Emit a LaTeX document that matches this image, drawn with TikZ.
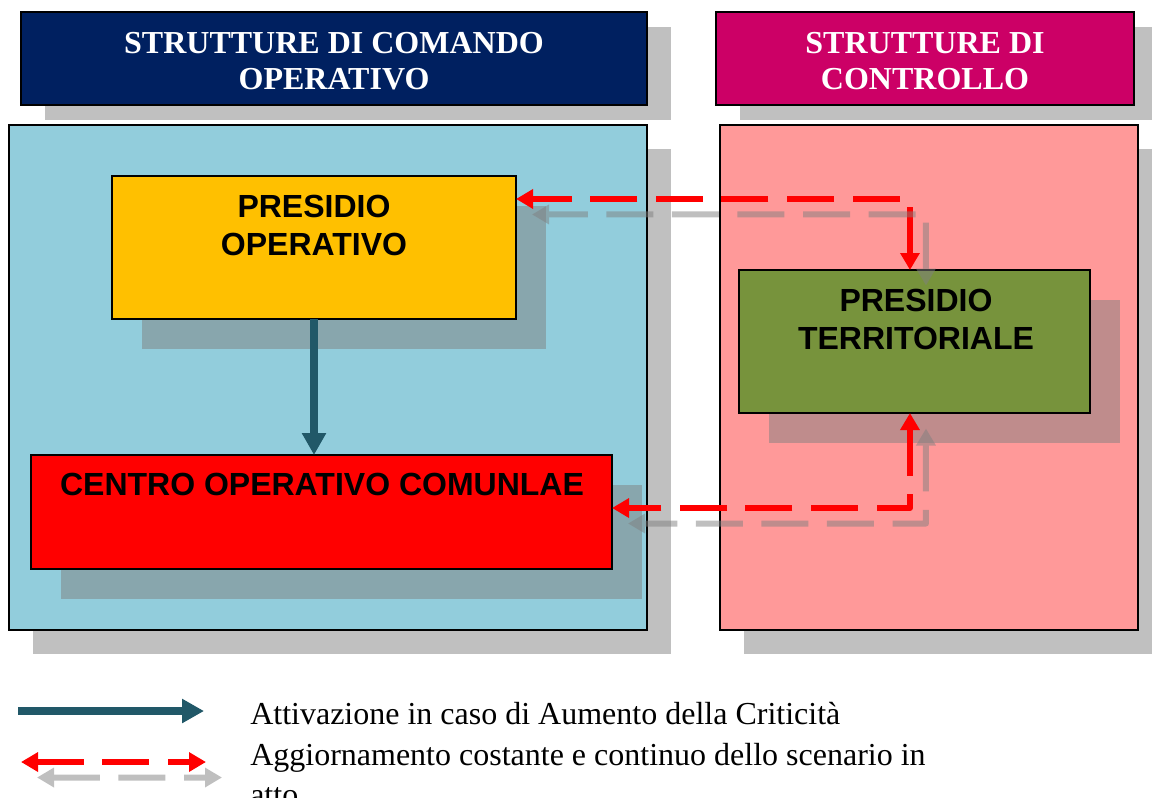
\documentclass[tikz,border=0pt]{standalone}
\usepackage{fontspec}
\setmainfont{Liberation Serif}
\newfontfamily\arialf{Liberation Sans}
\usetikzlibrary{arrows.meta,shadows,fit,calc}
\definecolor{navyH}{HTML}{002060}
\definecolor{magH}{HTML}{CC0066}
\definecolor{cyanP}{HTML}{92CDDC}
\definecolor{pinkP}{HTML}{FF9999}
\definecolor{yellowB}{HTML}{FFC000}
\definecolor{greenB}{HTML}{77933C}
\definecolor{tealA}{HTML}{215868}
\definecolor{shadowC}{HTML}{C0C0C0}
\begin{document}
\begin{tikzpicture}[x=0.75pt,y=-0.75pt,
  hdr/.style={draw=black, line width=1.5pt, inner sep=0, outer sep=0,
    general shadow={shadow xshift=18pt, shadow yshift=-11.6pt, fill=shadowC}},
  panel/.style={draw=black, line width=1.1pt, inner sep=0, outer sep=0,
    general shadow={shadow xshift=18pt, shadow yshift=-18pt, fill=shadowC}},
  box/.style={draw=black, line width=1.5pt, inner sep=0, outer sep=0,
    general shadow={shadow xshift=22.5pt, shadow yshift=-22.5pt, fill=black!50, fill opacity=0.5}},
  hdrtxt/.style={text=white, font=\bfseries\fontsize{24}{27}\selectfont, align=center, inner sep=0, anchor=north},
  boxtxt/.style={text=black, font=\arialf\bfseries\fontsize{24}{28.5}\selectfont, align=center, inner sep=0, anchor=north},
  legtxt/.style={font=\fontsize{24}{30}\selectfont, align=left, inner sep=0, anchor=north west},
  activ/.style={draw=tealA, line width=6pt, -{Triangle[length=16.5pt,width=17.25pt]}},
  updt/.style={draw=red, line width=4.5pt, line join=round, dash pattern=on 35.25pt off 13.9pt,
    {Triangle[length=12.75pt,width=14pt]}-{Triangle[length=12.75pt,width=14pt]}},
  shgroup/.style={transparency group, opacity=0.5, transform canvas={shift={(16,15.5)}}},
]
\useasboundingbox (0,0) rectangle (1152,797);
\fill[white] (0,0) rectangle (1152,797);

% headers
\node[hdr, fill=navyH, fit={(21,12)(647,105)}] (hL) {};
\node[hdrtxt] (hLt) at (334,32) {STRUTTURE DI COMANDO\\OPERATIVO};
\node[hdr, fill=magH, fit={(716,12)(1134,105)}] (hR) {};
\node[hdrtxt] (hRt) at (925,32) {STRUTTURE DI\\CONTROLLO};

% panels
\node[panel, fill=cyanP, fit={(9,125)(647,630)}] (pL) {};
\node[panel, fill=pinkP, fit={(720,125)(1138,630)}] (pR) {};

% boxes
\node[box, fill=yellowB, fit={(112,176)(516,319)}] (PO) {};
\node[boxtxt] (POt) at (314,195) {PRESIDIO\\OPERATIVO};
\node[box, fill=greenB, fit={(739,270)(1090,413)}] (PT) {};
\node[boxtxt] (PTt) at (916,289) {PRESIDIO\\TERRITORIALE};
\node[box, fill=red, fit={(31,455)(612,569)}] (COC) {};
\node[boxtxt] (COCt) at (322,473) {CENTRO OPERATIVO COMUNLAE};

% connectors
\draw[activ] (PO.south) -- (PO.south |- COC.north);
\draw[updt] ([xshift=-3.4pt]PT.north) |- ([yshift=36.4pt]PO.east);
\draw[updt] ([xshift=-3.4pt]PT.south) |- ([yshift=3pt]COC.east);
\begin{scope}[shgroup]
  \draw[updt, draw=black!50] ([xshift=-3.4pt]PT.north) |- ([yshift=36.4pt]PO.east);
  \draw[updt, draw=black!50] ([xshift=-3.4pt]PT.south) |- ([yshift=3pt]COC.east);
\end{scope}

% legend
\coordinate (la1) at (18,711);
\coordinate (la2) at (204,711);
\draw[activ] (la1) -- (la2);
\coordinate (lb1) at (21,762);
\coordinate (lb2) at (206,762);
\draw[updt] (lb1) -- (lb2);
\begin{scope}[shgroup]
  \draw[updt, draw=black!50] (lb1) -- (lb2);
\end{scope}
\node[legtxt] (lt1) at (250,702) {Attivazione in caso di Aumento della Criticità};
\node[legtxt] (lt2) at (250,743) {Aggiornamento costante e continuo dello scenario in\\atto};
\end{tikzpicture}
\end{document}
